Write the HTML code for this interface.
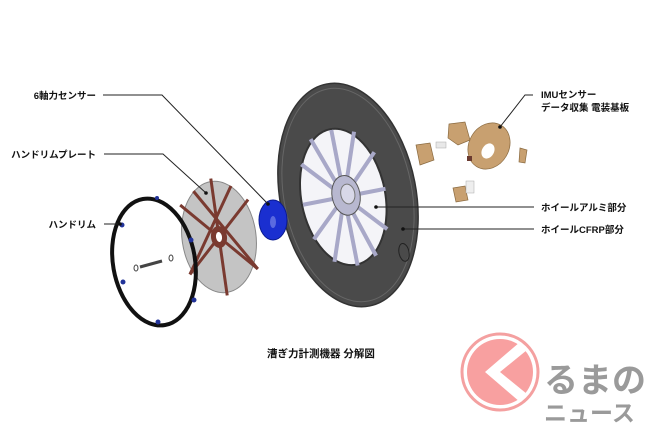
<!DOCTYPE html>
<html><head><meta charset="utf-8"><style>
html,body{margin:0;padding:0;background:#fff;}
svg{display:block;font-family:"Liberation Sans","Noto Sans CJK JP",sans-serif;}
</style></head><body>
<svg width="650" height="433" viewBox="0 0 650 433" xmlns="http://www.w3.org/2000/svg">
<rect width="650" height="433" fill="#fff"/>
<!-- wheel tire -->
<g transform="rotate(-11 348 195)">
<ellipse cx="348" cy="195" rx="68" ry="113" fill="#4a4a4a" stroke="#333" stroke-width="1.5"/>
<ellipse cx="348" cy="195" rx="64" ry="108" fill="none" stroke="#666" stroke-width="1"/>
<ellipse cx="343" cy="196" rx="42" ry="69" fill="#f4f4f8" stroke="#333" stroke-width="2"/>
<g stroke="#a8a8c8" stroke-width="4">
<line x1="344" y1="196" x2="344" y2="128"/><line x1="344" y1="196" x2="366" y2="134"/>
<line x1="344" y1="196" x2="382" y2="158"/><line x1="344" y1="196" x2="386" y2="196"/>
<line x1="344" y1="196" x2="380" y2="236"/><line x1="344" y1="196" x2="364" y2="260"/>
<line x1="344" y1="196" x2="344" y2="266"/><line x1="344" y1="196" x2="322" y2="258"/>
<line x1="344" y1="196" x2="306" y2="232"/><line x1="344" y1="196" x2="302" y2="196"/>
<line x1="344" y1="196" x2="308" y2="156"/><line x1="344" y1="196" x2="322" y2="133"/>
</g>
<ellipse cx="346" cy="195" rx="14" ry="20" fill="#b8b8d0" stroke="#555" stroke-width="1"/>
<ellipse cx="348" cy="194" rx="7" ry="10" fill="#d8d8e8" stroke="#777" stroke-width="1"/>
<ellipse cx="392" cy="262" rx="5" ry="9" fill="none" stroke="#222" stroke-width="1"/>
</g>
<!-- blue sensor -->
<ellipse cx="273" cy="220" rx="14" ry="20" fill="#1a2fd0" stroke="#0a1a90"/>
<ellipse cx="273" cy="222" rx="3" ry="6" fill="#5a6ae0"/>
<!-- plate -->
<g transform="rotate(-8 219 237)">
<ellipse cx="219" cy="237" rx="37" ry="56" fill="#c4c4c4" stroke="#888"/>
<g stroke="#7a3a30" stroke-width="3">
<line x1="219" y1="237" x2="219" y2="178"/><line x1="219" y1="237" x2="219" y2="296"/>
<line x1="219" y1="237" x2="185" y2="200"/><line x1="219" y1="237" x2="253" y2="274"/>
<line x1="219" y1="237" x2="185" y2="270"/><line x1="219" y1="237" x2="253" y2="204"/>
<line x1="200" y1="188" x2="253" y2="274"/><line x1="238" y1="188" x2="185" y2="270"/>
</g>
<ellipse cx="219" cy="237" rx="8" ry="11" fill="#7a3a30"/>
<ellipse cx="219" cy="237" rx="3" ry="5" fill="#fff"/>
</g>
<!-- handrim -->
<g transform="rotate(-10 154 262)">
<ellipse cx="154" cy="262" rx="41" ry="64" fill="none" stroke="#111" stroke-width="4"/>
</g>
<g fill="#223399"><circle cx="122" cy="225" r="2.5"/><circle cx="123" cy="282" r="2.5"/><circle cx="158" cy="322" r="2.5"/><circle cx="191" cy="240" r="2.5"/><circle cx="194" cy="300" r="2.5"/><circle cx="157" cy="198" r="2"/></g>
<g fill="none" stroke="#444"><ellipse cx="136" cy="268" rx="2" ry="3"/><ellipse cx="171" cy="258" rx="2" ry="3"/><line x1="140" y1="267" x2="162" y2="261" stroke-width="3"/></g>
<!-- IMU parts -->
<g fill="#c8a070" stroke="#8a6a40" stroke-width="0.7">
<ellipse cx="489" cy="146" rx="24" ry="20" transform="rotate(-60 489 146)"/>
<path d="M449 124 L465 122 L470 140 L458 145 L448 138Z"/>
<path d="M416 145 L430 143 L434 160 L420 165Z"/>
<path d="M453 188 L465 186 L468 200 L456 202Z"/>
<path d="M520 148 L527 150 L525 163 L519 162Z"/>
</g>
<ellipse cx="488" cy="151" rx="8" ry="6" fill="#fff" transform="rotate(-60 488 151)"/>
<rect x="467" y="156" width="5" height="5" fill="#6a3a30"/>
<rect x="436" y="142" width="10" height="6" fill="#e8e8e8" stroke="#aaa" stroke-width="0.5"/>
<rect x="466" y="181" width="8" height="12" fill="#eee" stroke="#aaa" stroke-width="0.5"/>
<!-- leader lines -->
<g stroke="#222" stroke-width="1" fill="none">
<polyline points="103,95 162,95 268,204"/>
<polyline points="104,154 163,154 206,193"/>
<line x1="104" y1="224" x2="120" y2="224"/>
<polyline points="533,95 525,95 500,127"/>
<line x1="376" y1="207" x2="534" y2="207"/>
<line x1="403" y1="229" x2="534" y2="229"/>
</g>
<g fill="#111"><circle cx="268" cy="204" r="1.8"/><circle cx="206" cy="193" r="1.8"/><circle cx="120" cy="224" r="1.8"/><circle cx="500" cy="127" r="1.8"/><circle cx="376" cy="207" r="1.8"/><circle cx="403" cy="229" r="1.8"/></g>
<g font-size="9.5" font-weight="bold" fill="#111">
<text x="96" y="99" text-anchor="end">6軸力センサー</text>
<text x="96" y="158" text-anchor="end">ハンドリムプレート</text>
<text x="96" y="228" text-anchor="end">ハンドリム</text>
<text x="541" y="98">IMUセンサー</text>
<text x="541" y="111">データ収集 電装基板</text>
<text x="541" y="211">ホイールアルミ部分</text>
<text x="541" y="233">ホイールCFRP部分</text>
<text x="267" y="357" font-size="10.5">漕ぎ力計測機器 分解図</text>
</g>
<!-- logo -->
<circle cx="500" cy="372" r="38" fill="none" stroke="#f4a0a0" stroke-width="3"/>
<circle cx="500" cy="372" r="33" fill="#f8a0a0"/>
<path d="M527 350 L500 372 L527 394 L520 402 L485 372 L520 342Z" fill="#fff"/>
<g fill="#9a9a9a" font-weight="bold">
<text x="544" y="392" font-size="34">るまの</text>
<text x="544" y="421" font-size="23">ニュース</text>
</g>
</svg>
</body></html>
